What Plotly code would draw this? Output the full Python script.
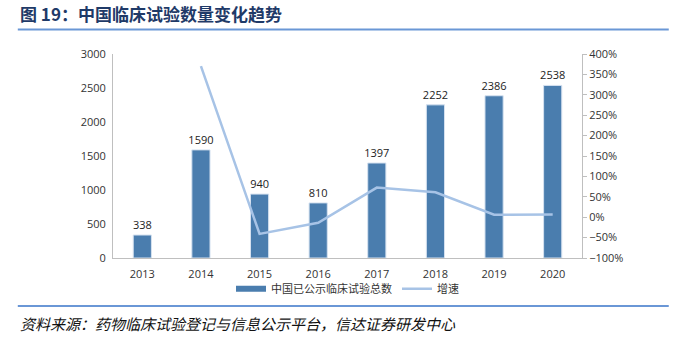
import plotly.graph_objects as go

years = ["2013", "2014", "2015", "2016", "2017", "2018", "2019", "2020"]
trials = [338, 1590, 940, 810, 1397, 2252, 2386, 2538]
growth = [None, 3.704, -0.409, -0.138, 0.725, 0.612, 0.060, 0.064]

BAR_COLOR = "#4A7DAE"
LINE_COLOR = "#A7C3E6"
AXIS_COLOR = "#BFBFBF"
RULE_COLOR = "#6A97D6"
FONT = "Open Sans, Noto Sans CJK SC, sans-serif"

fig = go.Figure()
fig.add_trace(go.Bar(
    x=years, y=trials, name="中国已公示临床试验总数",
    marker=dict(color=BAR_COLOR, line=dict(color="#D6E2F0", width=1)),
    width=0.31, showlegend=False,
    text=[str(v) for v in trials], textposition="outside", constraintext="none",
    textfont=dict(size=11, color="#222222"), cliponaxis=False,
    yaxis="y",
))
# wide flat swatch for the bar series in the legend
fig.add_trace(go.Scatter(
    x=[None], y=[None], name="中国已公示临床试验总数", mode="lines",
    line=dict(color=BAR_COLOR, width=6), yaxis="y",
))
fig.add_trace(go.Scatter(
    x=years, y=growth, name="增速", mode="lines",
    line=dict(color=LINE_COLOR, width=2.5),
    yaxis="y2", connectgaps=False,
))

fig.update_layout(
    width=674, height=337,
    margin=dict(l=113, r=92, t=54, b=79),
    paper_bgcolor="white", plot_bgcolor="white",
    font=dict(family=FONT, size=11, color="#333333"),
    showlegend=True,
    legend=dict(orientation="h", x=0.5, xanchor="center", y=-0.08, yanchor="top",
                bgcolor="rgba(0,0,0,0)",
                font=dict(size=11, color="#333333"), itemwidth=30,
                traceorder="normal"),
    xaxis=dict(showline=True, linecolor=AXIS_COLOR, linewidth=1, showgrid=False,
               ticks="", ticklabelstandoff=6, tickfont=dict(size=11, color="#333333")),
    yaxis=dict(range=[0, 3000], dtick=500, showline=True, linecolor=AXIS_COLOR,
               linewidth=1, showgrid=False, zeroline=False, ticks="",
               ticklabelstandoff=4, tickfont=dict(size=11, color="#333333")),
    yaxis2=dict(range=[-1, 4], dtick=0.5, tickformat=".0%", overlaying="y",
                side="right", showline=True, linecolor=AXIS_COLOR, linewidth=1,
                showgrid=False, zeroline=False, ticks="outside", ticklen=4,
                tickcolor=AXIS_COLOR, tickfont=dict(size=11, color="#333333")),
    shapes=[
        dict(type="line", xref="paper", yref="paper", x0=-0.203, x1=1.185,
             y0=1.0 + 24.5 / 204, y1=1.0 + 24.5 / 204,
             line=dict(color=RULE_COLOR, width=2)),
        dict(type="line", xref="paper", yref="paper", x0=-0.203, x1=1.185,
             y0=-48 / 204, y1=-48 / 204,
             line=dict(color=RULE_COLOR, width=2)),
    ],
    annotations=[
        dict(text="<b>图 19：中国临床试验数量变化趋势</b>", xref="paper", yref="paper",
             x=-0.203, y=1.0 + 26 / 204, xanchor="left", yanchor="bottom",
             showarrow=False,
             font=dict(family="Noto Sans CJK SC", size=17, color="#1F3A68")),
        dict(text="<i>资料来源：药物临床试验登记与信息公示平台，信达证券研发中心</i>",
             xref="paper", yref="paper", x=-0.203, y=-53 / 204,
             xanchor="left", yanchor="top", showarrow=False,
             font=dict(family="Noto Sans CJK SC", size=15, color="#111111")),
    ],
)

fig.write_html("out.html")
